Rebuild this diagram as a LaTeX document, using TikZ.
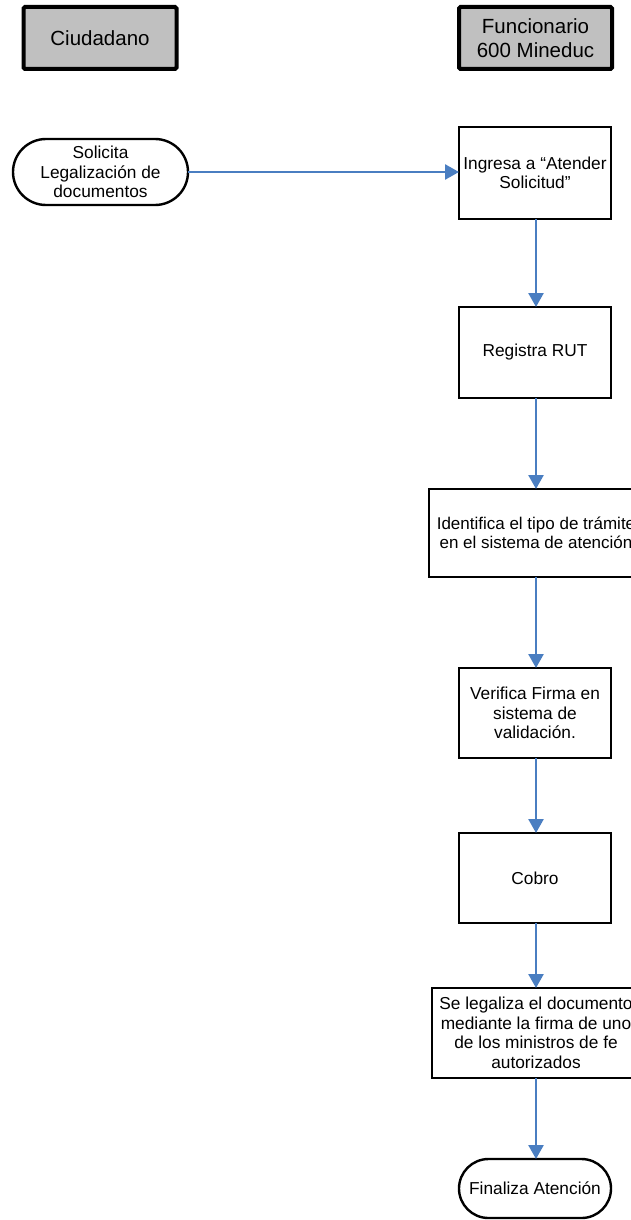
\documentclass[tikz,border=0pt]{standalone}
\usepackage{fontspec}
\setmainfont{Liberation Sans}
\usetikzlibrary{arrows.meta}
\definecolor{flowblue}{RGB}{74,126,193}
\definecolor{lanegray}{RGB}{192,192,192}
\begin{document}
\begin{tikzpicture}[x=1pt,y=-1pt,
  lane/.style={draw=black,line width=4pt,fill=lanegray,rounded corners=1.5pt,
    minimum width=153pt,minimum height=62pt,inner sep=0pt,outer sep=0pt,align=center,
    font=\fontsize{20.5}{23.5}\selectfont},
  procbox/.style={draw=black,line width=2.4pt,fill=white,inner sep=0pt,outer sep=0pt,
    align=center,font=\fontsize{17.3}{19.5}\selectfont},
  termbox/.style={procbox,rounded corners=#1},
  flow/.style={draw=flowblue,line width=2.6pt,-{Triangle[length=14pt,width=15pt]}}]
\useasboundingbox (0,0) rectangle (631,1220);
\clip (0,0) rectangle (631,1220);

% swimlane headers
\node[lane] (ciud) at (100,38) {Ciudadano};
\node[lane] (func) at (535.5,38) {Funcionario\\600 Mineduc};

% citizen request
\node[termbox=33pt,minimum width=175pt,minimum height=66pt] (sol) at (100.5,172)
  {Solicita\\Legalización de\\documentos};

% officer steps
\node[procbox,minimum width=152pt,minimum height=92pt] (ing) at (535,173)
  {Ingresa a “Atender\\Solicitud”};
\node[procbox,minimum width=152pt,minimum height=91pt] (reg) at (535,352.5)
  {Registra RUT};
\node[procbox,minimum width=214pt,minimum height=88pt,
      font=\fontsize{17}{19.5}\selectfont] (ide) at (536,533)
  {Identifica el tipo de trámite\\en el sistema de atención};
\node[procbox,minimum width=152pt,minimum height=90pt] (ver) at (535,713)
  {Verifica Firma en\\sistema de\\validación.};
\node[procbox,minimum width=152pt,minimum height=90pt] (cob) at (535,878)
  {Cobro};
\node[procbox,minimum width=208pt,minimum height=90pt] (leg) at (536,1033)
  {Se legaliza el documento\\mediante la firma de uno\\de los ministros de fe\\autorizados};
\node[termbox=29.5pt,minimum width=152pt,minimum height=59pt] (fin) at (535,1188.5)
  {Finaliza Atención};

% connectors
\draw[flow] (sol.east) -- (ing.west |- sol.east);
\draw[flow] (ing.south -| 536,0) -- (reg.north -| 536,0);
\draw[flow] (reg.south -| 536,0) -- (ide.north -| 536,0);
\draw[flow] (ide.south -| 536,0) -- (ver.north -| 536,0);
\draw[flow] (ver.south -| 536,0) -- (cob.north -| 536,0);
\draw[flow] (cob.south -| 536,0) -- (leg.north -| 536,0);
\draw[flow] (leg.south -| 536,0) -- (fin.north -| 536,0);
\end{tikzpicture}
\end{document}
